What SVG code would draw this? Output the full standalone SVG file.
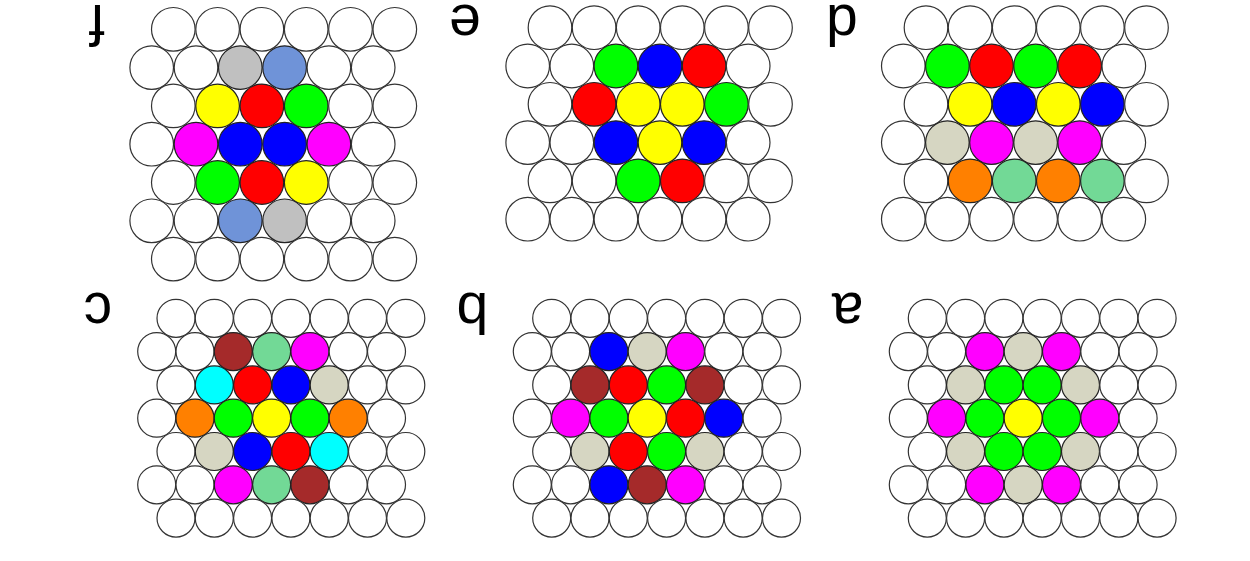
<svg xmlns="http://www.w3.org/2000/svg" width="1250" height="561" viewBox="0 0 1250 561">
<style>
circle{stroke:#222;stroke-width:1.2}
.w{fill:#fff;stroke:#333}
.g{fill:#00ff00}.b{fill:#0000ff}.r{fill:#ff0000}.y{fill:#ffff00}.m{fill:#ff00ff}
.gr{fill:#c0c0c0}.lb{fill:#6f93d8}.be{fill:#d6d6c2}.o{fill:#ff8000}.lg{fill:#72d996}
.br{fill:#a52a2a}.c{fill:#00ffff}
text{font-family:"Liberation Sans",Arial,sans-serif;font-size:57px;text-anchor:middle;fill:#000}
</style>
<rect width="1250" height="561" fill="#fff"/>
<g id="panel-f">
<text x="97" y="34" transform="rotate(180 97 19.5)">f</text>
<circle class="w" cx="173.3" cy="29.3" r="21.8"/><circle class="w" cx="217.6" cy="29.3" r="21.8"/><circle class="w" cx="261.9" cy="29.3" r="21.8"/><circle class="w" cx="306.2" cy="29.3" r="21.8"/><circle class="w" cx="350.5" cy="29.3" r="21.8"/><circle class="w" cx="394.8" cy="29.3" r="21.8"/>
<circle class="w" cx="151.7" cy="67.6" r="21.8"/><circle class="w" cx="196" cy="67.6" r="21.8"/><circle class="gr" cx="240.3" cy="67.6" r="21.8"/><circle class="lb" cx="284.6" cy="67.6" r="21.8"/><circle class="w" cx="328.9" cy="67.6" r="21.8"/><circle class="w" cx="373.2" cy="67.6" r="21.8"/>
<circle class="w" cx="173.3" cy="105.9" r="21.8"/><circle class="y" cx="217.6" cy="105.9" r="21.8"/><circle class="r" cx="261.9" cy="105.9" r="21.8"/><circle class="g" cx="306.2" cy="105.9" r="21.8"/><circle class="w" cx="350.5" cy="105.9" r="21.8"/><circle class="w" cx="394.8" cy="105.9" r="21.8"/>
<circle class="w" cx="151.7" cy="144.2" r="21.8"/><circle class="m" cx="196" cy="144.2" r="21.8"/><circle class="b" cx="240.3" cy="144.2" r="21.8"/><circle class="b" cx="284.6" cy="144.2" r="21.8"/><circle class="m" cx="328.9" cy="144.2" r="21.8"/><circle class="w" cx="373.2" cy="144.2" r="21.8"/>
<circle class="w" cx="173.3" cy="182.5" r="21.8"/><circle class="g" cx="217.6" cy="182.5" r="21.8"/><circle class="r" cx="261.9" cy="182.5" r="21.8"/><circle class="y" cx="306.2" cy="182.5" r="21.8"/><circle class="w" cx="350.5" cy="182.5" r="21.8"/><circle class="w" cx="394.8" cy="182.5" r="21.8"/>
<circle class="w" cx="151.7" cy="220.8" r="21.8"/><circle class="w" cx="196" cy="220.8" r="21.8"/><circle class="lb" cx="240.3" cy="220.8" r="21.8"/><circle class="gr" cx="284.6" cy="220.8" r="21.8"/><circle class="w" cx="328.9" cy="220.8" r="21.8"/><circle class="w" cx="373.2" cy="220.8" r="21.8"/>
<circle class="w" cx="173.3" cy="259.1" r="21.8"/><circle class="w" cx="217.6" cy="259.1" r="21.8"/><circle class="w" cx="261.9" cy="259.1" r="21.8"/><circle class="w" cx="306.2" cy="259.1" r="21.8"/><circle class="w" cx="350.5" cy="259.1" r="21.8"/><circle class="w" cx="394.8" cy="259.1" r="21.8"/>
</g>
<g id="panel-e">
<text x="465" y="34" transform="rotate(180 465 19.5)">e</text>
<circle class="w" cx="550" cy="27.7" r="21.8"/><circle class="w" cx="594.1" cy="27.7" r="21.8"/><circle class="w" cx="638.2" cy="27.7" r="21.8"/><circle class="w" cx="682.3" cy="27.7" r="21.8"/><circle class="w" cx="726.4" cy="27.7" r="21.8"/><circle class="w" cx="770.5" cy="27.7" r="21.8"/>
<circle class="w" cx="527.7" cy="66" r="21.8"/><circle class="w" cx="571.8" cy="66" r="21.8"/><circle class="g" cx="615.9" cy="66" r="21.8"/><circle class="b" cx="660" cy="66" r="21.8"/><circle class="r" cx="704.1" cy="66" r="21.8"/><circle class="w" cx="748.2" cy="66" r="21.8"/>
<circle class="w" cx="550" cy="104.3" r="21.8"/><circle class="r" cx="594.1" cy="104.3" r="21.8"/><circle class="y" cx="638.2" cy="104.3" r="21.8"/><circle class="y" cx="682.3" cy="104.3" r="21.8"/><circle class="g" cx="726.4" cy="104.3" r="21.8"/><circle class="w" cx="770.5" cy="104.3" r="21.8"/>
<circle class="w" cx="527.7" cy="142.6" r="21.8"/><circle class="w" cx="571.8" cy="142.6" r="21.8"/><circle class="b" cx="615.9" cy="142.6" r="21.8"/><circle class="y" cx="660" cy="142.6" r="21.8"/><circle class="b" cx="704.1" cy="142.6" r="21.8"/><circle class="w" cx="748.2" cy="142.6" r="21.8"/>
<circle class="w" cx="550" cy="180.9" r="21.8"/><circle class="w" cx="594.1" cy="180.9" r="21.8"/><circle class="g" cx="638.2" cy="180.9" r="21.8"/><circle class="r" cx="682.3" cy="180.9" r="21.8"/><circle class="w" cx="726.4" cy="180.9" r="21.8"/><circle class="w" cx="770.5" cy="180.9" r="21.8"/>
<circle class="w" cx="527.7" cy="219.2" r="21.8"/><circle class="w" cx="571.8" cy="219.2" r="21.8"/><circle class="w" cx="615.9" cy="219.2" r="21.8"/><circle class="w" cx="660" cy="219.2" r="21.8"/><circle class="w" cx="704.1" cy="219.2" r="21.8"/><circle class="w" cx="748.2" cy="219.2" r="21.8"/>
</g>
<g id="panel-d">
<text x="842" y="34" transform="rotate(180 842 19.5)">d</text>
<circle class="w" cx="926" cy="27.7" r="21.8"/><circle class="w" cx="970.1" cy="27.7" r="21.8"/><circle class="w" cx="1014.2" cy="27.7" r="21.8"/><circle class="w" cx="1058.3" cy="27.7" r="21.8"/><circle class="w" cx="1102.4" cy="27.7" r="21.8"/><circle class="w" cx="1146.5" cy="27.7" r="21.8"/>
<circle class="w" cx="903.3" cy="66" r="21.8"/><circle class="g" cx="947.4" cy="66" r="21.8"/><circle class="r" cx="991.5" cy="66" r="21.8"/><circle class="g" cx="1035.6" cy="66" r="21.8"/><circle class="r" cx="1079.7" cy="66" r="21.8"/><circle class="w" cx="1123.8" cy="66" r="21.8"/>
<circle class="w" cx="926" cy="104.3" r="21.8"/><circle class="y" cx="970.1" cy="104.3" r="21.8"/><circle class="b" cx="1014.2" cy="104.3" r="21.8"/><circle class="y" cx="1058.3" cy="104.3" r="21.8"/><circle class="b" cx="1102.4" cy="104.3" r="21.8"/><circle class="w" cx="1146.5" cy="104.3" r="21.8"/>
<circle class="w" cx="903.3" cy="142.6" r="21.8"/><circle class="be" cx="947.4" cy="142.6" r="21.8"/><circle class="m" cx="991.5" cy="142.6" r="21.8"/><circle class="be" cx="1035.6" cy="142.6" r="21.8"/><circle class="m" cx="1079.7" cy="142.6" r="21.8"/><circle class="w" cx="1123.8" cy="142.6" r="21.8"/>
<circle class="w" cx="926" cy="180.9" r="21.8"/><circle class="o" cx="970.1" cy="180.9" r="21.8"/><circle class="lg" cx="1014.2" cy="180.9" r="21.8"/><circle class="o" cx="1058.3" cy="180.9" r="21.8"/><circle class="lg" cx="1102.4" cy="180.9" r="21.8"/><circle class="w" cx="1146.5" cy="180.9" r="21.8"/>
<circle class="w" cx="903.3" cy="219.2" r="21.8"/><circle class="w" cx="947.4" cy="219.2" r="21.8"/><circle class="w" cx="991.5" cy="219.2" r="21.8"/><circle class="w" cx="1035.6" cy="219.2" r="21.8"/><circle class="w" cx="1079.7" cy="219.2" r="21.8"/><circle class="w" cx="1123.8" cy="219.2" r="21.8"/>
</g>
<g id="panel-c">
<text x="98" y="322.3" transform="rotate(180 98 307.8)">c</text>
<circle class="w" cx="176" cy="318.3" r="19"/><circle class="w" cx="214.3" cy="318.3" r="19"/><circle class="w" cx="252.6" cy="318.3" r="19"/><circle class="w" cx="290.9" cy="318.3" r="19"/><circle class="w" cx="329.2" cy="318.3" r="19"/><circle class="w" cx="367.5" cy="318.3" r="19"/><circle class="w" cx="405.8" cy="318.3" r="19"/>
<circle class="w" cx="156.7" cy="351.6" r="19"/><circle class="w" cx="195" cy="351.6" r="19"/><circle class="br" cx="233.3" cy="351.6" r="19"/><circle class="lg" cx="271.6" cy="351.6" r="19"/><circle class="m" cx="309.9" cy="351.6" r="19"/><circle class="w" cx="348.2" cy="351.6" r="19"/><circle class="w" cx="386.5" cy="351.6" r="19"/>
<circle class="w" cx="176" cy="384.9" r="19"/><circle class="c" cx="214.3" cy="384.9" r="19"/><circle class="r" cx="252.6" cy="384.9" r="19"/><circle class="b" cx="290.9" cy="384.9" r="19"/><circle class="be" cx="329.2" cy="384.9" r="19"/><circle class="w" cx="367.5" cy="384.9" r="19"/><circle class="w" cx="405.8" cy="384.9" r="19"/>
<circle class="w" cx="156.7" cy="418.2" r="19"/><circle class="o" cx="195" cy="418.2" r="19"/><circle class="g" cx="233.3" cy="418.2" r="19"/><circle class="y" cx="271.6" cy="418.2" r="19"/><circle class="g" cx="309.9" cy="418.2" r="19"/><circle class="o" cx="348.2" cy="418.2" r="19"/><circle class="w" cx="386.5" cy="418.2" r="19"/>
<circle class="w" cx="176" cy="451.5" r="19"/><circle class="be" cx="214.3" cy="451.5" r="19"/><circle class="b" cx="252.6" cy="451.5" r="19"/><circle class="r" cx="290.9" cy="451.5" r="19"/><circle class="c" cx="329.2" cy="451.5" r="19"/><circle class="w" cx="367.5" cy="451.5" r="19"/><circle class="w" cx="405.8" cy="451.5" r="19"/>
<circle class="w" cx="156.7" cy="484.8" r="19"/><circle class="w" cx="195" cy="484.8" r="19"/><circle class="m" cx="233.3" cy="484.8" r="19"/><circle class="lg" cx="271.6" cy="484.8" r="19"/><circle class="br" cx="309.9" cy="484.8" r="19"/><circle class="w" cx="348.2" cy="484.8" r="19"/><circle class="w" cx="386.5" cy="484.8" r="19"/>
<circle class="w" cx="176" cy="518.1" r="19"/><circle class="w" cx="214.3" cy="518.1" r="19"/><circle class="w" cx="252.6" cy="518.1" r="19"/><circle class="w" cx="290.9" cy="518.1" r="19"/><circle class="w" cx="329.2" cy="518.1" r="19"/><circle class="w" cx="367.5" cy="518.1" r="19"/><circle class="w" cx="405.8" cy="518.1" r="19"/>
</g>
<g id="panel-b">
<text x="472.5" y="322.3" transform="rotate(180 472.5 307.8)">b</text>
<circle class="w" cx="551.7" cy="318.3" r="19"/><circle class="w" cx="590" cy="318.3" r="19"/><circle class="w" cx="628.3" cy="318.3" r="19"/><circle class="w" cx="666.6" cy="318.3" r="19"/><circle class="w" cx="704.9" cy="318.3" r="19"/><circle class="w" cx="743.2" cy="318.3" r="19"/><circle class="w" cx="781.5" cy="318.3" r="19"/>
<circle class="w" cx="532.3" cy="351.6" r="19"/><circle class="w" cx="570.6" cy="351.6" r="19"/><circle class="b" cx="608.9" cy="351.6" r="19"/><circle class="be" cx="647.2" cy="351.6" r="19"/><circle class="m" cx="685.5" cy="351.6" r="19"/><circle class="w" cx="723.8" cy="351.6" r="19"/><circle class="w" cx="762.1" cy="351.6" r="19"/>
<circle class="w" cx="551.7" cy="384.9" r="19"/><circle class="br" cx="590" cy="384.9" r="19"/><circle class="r" cx="628.3" cy="384.9" r="19"/><circle class="g" cx="666.6" cy="384.9" r="19"/><circle class="br" cx="704.9" cy="384.9" r="19"/><circle class="w" cx="743.2" cy="384.9" r="19"/><circle class="w" cx="781.5" cy="384.9" r="19"/>
<circle class="w" cx="532.3" cy="418.2" r="19"/><circle class="m" cx="570.6" cy="418.2" r="19"/><circle class="g" cx="608.9" cy="418.2" r="19"/><circle class="y" cx="647.2" cy="418.2" r="19"/><circle class="r" cx="685.5" cy="418.2" r="19"/><circle class="b" cx="723.8" cy="418.2" r="19"/><circle class="w" cx="762.1" cy="418.2" r="19"/>
<circle class="w" cx="551.7" cy="451.5" r="19"/><circle class="be" cx="590" cy="451.5" r="19"/><circle class="r" cx="628.3" cy="451.5" r="19"/><circle class="g" cx="666.6" cy="451.5" r="19"/><circle class="be" cx="704.9" cy="451.5" r="19"/><circle class="w" cx="743.2" cy="451.5" r="19"/><circle class="w" cx="781.5" cy="451.5" r="19"/>
<circle class="w" cx="532.3" cy="484.8" r="19"/><circle class="w" cx="570.6" cy="484.8" r="19"/><circle class="b" cx="608.9" cy="484.8" r="19"/><circle class="br" cx="647.2" cy="484.8" r="19"/><circle class="m" cx="685.5" cy="484.8" r="19"/><circle class="w" cx="723.8" cy="484.8" r="19"/><circle class="w" cx="762.1" cy="484.8" r="19"/>
<circle class="w" cx="551.7" cy="518.1" r="19"/><circle class="w" cx="590" cy="518.1" r="19"/><circle class="w" cx="628.3" cy="518.1" r="19"/><circle class="w" cx="666.6" cy="518.1" r="19"/><circle class="w" cx="704.9" cy="518.1" r="19"/><circle class="w" cx="743.2" cy="518.1" r="19"/><circle class="w" cx="781.5" cy="518.1" r="19"/>
</g>
<g id="panel-a">
<text x="847.7" y="321.5" transform="rotate(180 847.7 307)">a</text>
<circle class="w" cx="927.3" cy="318.3" r="19"/><circle class="w" cx="965.6" cy="318.3" r="19"/><circle class="w" cx="1003.9" cy="318.3" r="19"/><circle class="w" cx="1042.2" cy="318.3" r="19"/><circle class="w" cx="1080.5" cy="318.3" r="19"/><circle class="w" cx="1118.8" cy="318.3" r="19"/><circle class="w" cx="1157.1" cy="318.3" r="19"/>
<circle class="w" cx="908.3" cy="351.6" r="19"/><circle class="w" cx="946.6" cy="351.6" r="19"/><circle class="m" cx="984.9" cy="351.6" r="19"/><circle class="be" cx="1023.2" cy="351.6" r="19"/><circle class="m" cx="1061.5" cy="351.6" r="19"/><circle class="w" cx="1099.8" cy="351.6" r="19"/><circle class="w" cx="1138.1" cy="351.6" r="19"/>
<circle class="w" cx="927.3" cy="384.9" r="19"/><circle class="be" cx="965.6" cy="384.9" r="19"/><circle class="g" cx="1003.9" cy="384.9" r="19"/><circle class="g" cx="1042.2" cy="384.9" r="19"/><circle class="be" cx="1080.5" cy="384.9" r="19"/><circle class="w" cx="1118.8" cy="384.9" r="19"/><circle class="w" cx="1157.1" cy="384.9" r="19"/>
<circle class="w" cx="908.3" cy="418.2" r="19"/><circle class="m" cx="946.6" cy="418.2" r="19"/><circle class="g" cx="984.9" cy="418.2" r="19"/><circle class="y" cx="1023.2" cy="418.2" r="19"/><circle class="g" cx="1061.5" cy="418.2" r="19"/><circle class="m" cx="1099.8" cy="418.2" r="19"/><circle class="w" cx="1138.1" cy="418.2" r="19"/>
<circle class="w" cx="927.3" cy="451.5" r="19"/><circle class="be" cx="965.6" cy="451.5" r="19"/><circle class="g" cx="1003.9" cy="451.5" r="19"/><circle class="g" cx="1042.2" cy="451.5" r="19"/><circle class="be" cx="1080.5" cy="451.5" r="19"/><circle class="w" cx="1118.8" cy="451.5" r="19"/><circle class="w" cx="1157.1" cy="451.5" r="19"/>
<circle class="w" cx="908.3" cy="484.8" r="19"/><circle class="w" cx="946.6" cy="484.8" r="19"/><circle class="m" cx="984.9" cy="484.8" r="19"/><circle class="be" cx="1023.2" cy="484.8" r="19"/><circle class="m" cx="1061.5" cy="484.8" r="19"/><circle class="w" cx="1099.8" cy="484.8" r="19"/><circle class="w" cx="1138.1" cy="484.8" r="19"/>
<circle class="w" cx="927.3" cy="518.1" r="19"/><circle class="w" cx="965.6" cy="518.1" r="19"/><circle class="w" cx="1003.9" cy="518.1" r="19"/><circle class="w" cx="1042.2" cy="518.1" r="19"/><circle class="w" cx="1080.5" cy="518.1" r="19"/><circle class="w" cx="1118.8" cy="518.1" r="19"/><circle class="w" cx="1157.1" cy="518.1" r="19"/>
</g>
<g id="connectors"/>
</svg>
